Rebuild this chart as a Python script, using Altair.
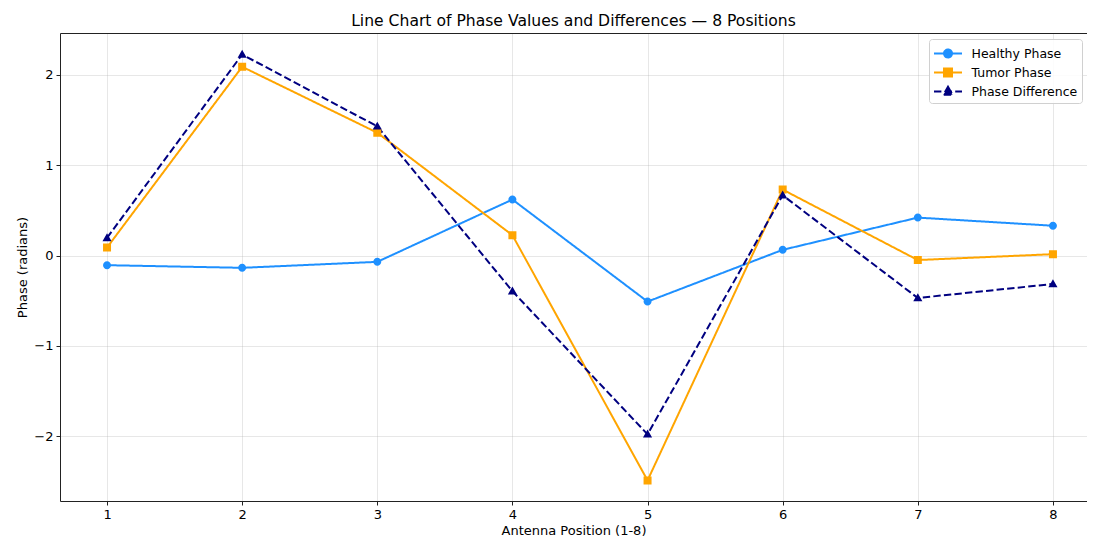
import altair as alt
import pandas as pd

positions = [1, 2, 3, 4, 5, 6, 7, 8]
healthy = [-0.107, -0.136, -0.07, 0.62, -0.51, 0.063, 0.42, 0.33]
tumor = [0.088, 2.09, 1.36, 0.225, -2.49, 0.73, -0.05, 0.015]
difference = [0.195, 2.226, 1.43, -0.395, -1.98, 0.667, -0.47, -0.315]
series_names = ["Healthy Phase", "Tumor Phase", "Phase Difference"]
series_colors = ["#1E90FF", "#FFA500", "#000080"]
y_ticks = [-2, -1, 0, 1, 2]

rows = []
for name, vals in zip(series_names, [healthy, tumor, difference]):
    for p, v in zip(positions, vals):
        rows.append({"series": name, "position": p, "phase": v})
df = pd.DataFrame(rows)

k = round(4 / 9.5, 3)
seg = "M-1.474,0H1.474"
circle = f"{seg}M{k},0A{k},{k},0,1,1,{-k},0A{k},{k},0,1,1,{k},0Z"
square = f"{seg}M{-k},{-k}H{k}V{k}H{-k}Z"
triangle = f"{seg}M0,-0.5L0.48,0.34L-0.48,0.34Z"

color_scale = alt.Scale(domain=series_names, range=series_colors)
dash_scale = alt.Scale(domain=series_names, range=[[1, 0], [1, 0], [7.4, 3.2]])
shape_scale = alt.Scale(domain=series_names, range=[circle, square, triangle])
x_scale = alt.Scale(domain=[0.652, 8.252], nice=False, zero=False)
y_scale = alt.Scale(domain=[-2.718, 2.464], nice=False, zero=False)

y = alt.Y(
    "phase:Q",
    scale=y_scale,
    axis=alt.Axis(values=y_ticks, format="d", title="Phase (radians)", domain=True),
)

lines = alt.Chart(df).mark_line(strokeWidth=2).encode(
    x=alt.X(
        "position:Q",
        scale=x_scale,
        axis=alt.Axis(values=positions, format="d", title="Antenna Position (1-8)",
                      domain=True, orient="bottom", titlePadding=3),
    ),
    y=y,
    color=alt.Color("series:N", scale=color_scale, title=None, sort=series_names),
    strokeDash=alt.StrokeDash("series:N", scale=dash_scale, title=None, sort=series_names),
    order="position:Q",
)
points = alt.Chart(df).mark_point(filled=True, size=361, opacity=1).encode(
    x=alt.X(
        "position:Q",
        scale=x_scale,
        axis=alt.Axis(orient="top", labels=False, ticks=False, grid=False,
                      domain=True, title=None),
    ),
    y=y,
    color=alt.Color("series:N", scale=color_scale, title=None, sort=series_names),
    shape=alt.Shape("series:N", scale=shape_scale, title=None, sort=series_names),
)

chart = (
    alt.layer(lines, points)
    .resolve_axis(x="independent")
    .properties(
        width=1027,
        height=468,
        autosize="none",
        padding={"left": 52, "top": 25, "right": 0, "bottom": 36},
        title=alt.TitleParams(
            "Line Chart of Phase Values and Differences — 8 Positions",
            fontSize=15.6,
            font="DejaVu Sans",
            fontWeight="normal",
            color="#000",
            anchor="middle",
            offset=3,
        ),
    )
    .configure_view(stroke=None)
    .configure_axis(
        grid=True,
        gridColor="#b0b0b0",
        gridOpacity=0.3,
        gridWidth=1,
        domainColor="#222",
        domainWidth=1,
        tickColor="#222",
        tickSize=4,
        tickWidth=1,
        labelFont="DejaVu Sans",
        labelFontSize=13,
        labelColor="#000",
        labelPadding=3,
        titleFont="DejaVu Sans",
        titleFontSize=13,
        titleFontWeight="normal",
        titleColor="#000",
    )
    .configure_legend(
        orient="none",
        legendX=869,
        legendY=6,
        padding=4,
        symbolSize=361,
        symbolStrokeWidth=2,
        symbolOffset=4.5,
        labelOffset=13,
        labelFont="DejaVu Sans",
        labelFontSize=12.5,
        labelColor="#000",
        strokeColor="#d0d0d0",
        fillColor="rgba(255,255,255,0.85)",
        cornerRadius=3,
        rowPadding=0,
    )
)

chart.save("out.html", embed_options={"renderer": "svg", "actions": False})
